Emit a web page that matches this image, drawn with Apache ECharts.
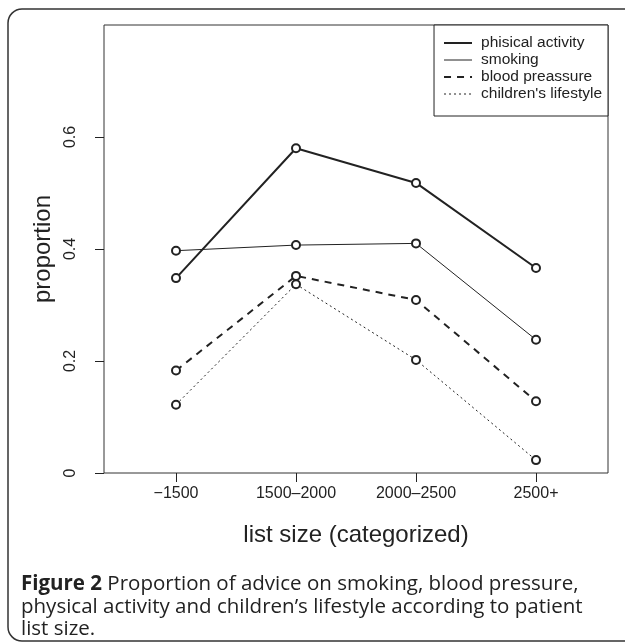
<!DOCTYPE html>
<html><head><meta charset="utf-8">
<script src="https://cdn.jsdelivr.net/npm/echarts@6/dist/echarts.min.js"></script>
<style>html,body{margin:0;padding:0;background:#fff}#c{width:625px;height:644px}</style>
</head><body><div id="c"></div>
<script>
const categories = ['\u22121500', '1500\u20132000', '2000\u20132500', '2500+'];
const categoryPos = [1, 2, 3, 4];
const seriesNames = ['phisical activity', 'smoking', 'blood preassure', "children's lifestyle"];
const physicalActivity = [0.348, 0.580, 0.518, 0.366];
const smoking = [0.397, 0.407, 0.410, 0.238];
const bloodPressure = [0.183, 0.352, 0.309, 0.128];
const childrensLifestyle = [0.122, 0.337, 0.202, 0.023];
const yTicks = [0, 0.2, 0.4, 0.6];
const yTickLabels = ['0', '0.2', '0.4', '0.6'];

const FONT = 'Liberation Sans';
const INK = '#222';
const lineWidths = [2, 1, 2, 1];
const lineDashes = ['solid', 'solid', [7, 6], [2, 3]];
function pairs(vals){ return vals.map((v,i)=>[categoryPos[i], v]); }
function mk(i, vals){
  return {
    name: seriesNames[i], type:'line', data: pairs(vals), symbol:'emptyCircle', symbolSize: 8,
    lineStyle:{color:INK, width: lineWidths[i], type: lineDashes[i]},
    itemStyle:{color:INK, borderColor:INK, borderWidth: lineWidths[i]},
    emphasis:{disabled:true}, animation:false, z: 3
  };
}
const chart = echarts.init(document.getElementById('c'), null, {renderer:'canvas'});
chart.setOption({
  backgroundColor:'#fff',
  animation:false,
  grid:{left:104, right:17, top:25, bottom:171, show:true, borderColor:'#333', borderWidth:1, backgroundColor:'transparent'},
  xAxis:{
    type:'value', min:0.4, max:4.6,
    name:'list size (categorized)', nameLocation:'middle', nameGap:50,
    nameTextStyle:{fontFamily:FONT, fontSize:24, color:INK},
    axisLine:{show:false}, splitLine:{show:false},
    axisTick:{show:true, customValues: categoryPos, length:9, inside:false, lineStyle:{color:INK}},
    axisLabel:{customValues: categoryPos, formatter:(v)=>categories[categoryPos.indexOf(v)] || '', fontFamily:FONT, fontSize:16, color:INK, margin:13}
  },
  yAxis:{
    type:'value', min:0, max:0.8,
    name:'proportion', nameLocation:'middle', nameGap:45, nameRotate:90,
    nameTextStyle:{fontFamily:FONT, fontSize:24, color:INK},
    axisLine:{show:false}, splitLine:{show:false},
    axisTick:{show:true, customValues: yTicks, length:9, lineStyle:{color:INK}},
    axisLabel:{customValues: yTicks, rotate:90, formatter:(v)=>{const i=yTicks.findIndex(t=>Math.abs(t-v)<1e-9);return i>=0?yTickLabels[i]:'';}, fontFamily:FONT, fontSize:16, color:INK, margin:25}
  },
  legend:{
    orient:'vertical', right:17, top:25,
    data: seriesNames.map((n,i)=>({name:n, lineStyle:{width: lineWidths[i], type: lineDashes[i], color: INK}})),
    padding:[10, 6, 14, 9], itemGap:1, itemWidth:28, itemHeight:12,
    borderColor:INK, borderWidth:1, borderRadius:0, backgroundColor:'#fff',
    itemStyle:{opacity:0},
    textStyle:{fontFamily:FONT, fontSize:15.5, lineHeight:16, color:INK, padding:[0,0,0,4]},
    selectedMode:false
  },
  series:[
    mk(0, physicalActivity),
    mk(1, smoking),
    mk(2, bloodPressure),
    mk(3, childrensLifestyle)
  ],
  graphic:[
    {type:'rect', shape:{x:8, y:9, width:700, height:632, r:14}, style:{fill:'none', stroke:'#333', lineWidth:1.5}, silent:true, z:-1},
    {type:'text', left:21, top:573, style:{
      text:'{b|Figure 2} Proportion of advice on smoking, blood pressure,\nphysical activity and children\u2019s lifestyle according to patient\nlist size.',
      font:'20.5px "Open Sans"', fill:'#222', lineHeight:22.5,
      rich:{b:{fontFamily:'Open Sans', fontWeight:'bold', fontSize:20.5, fill:'#222', lineHeight:22.5}}
    }}
  ]
});
</script></body></html>
